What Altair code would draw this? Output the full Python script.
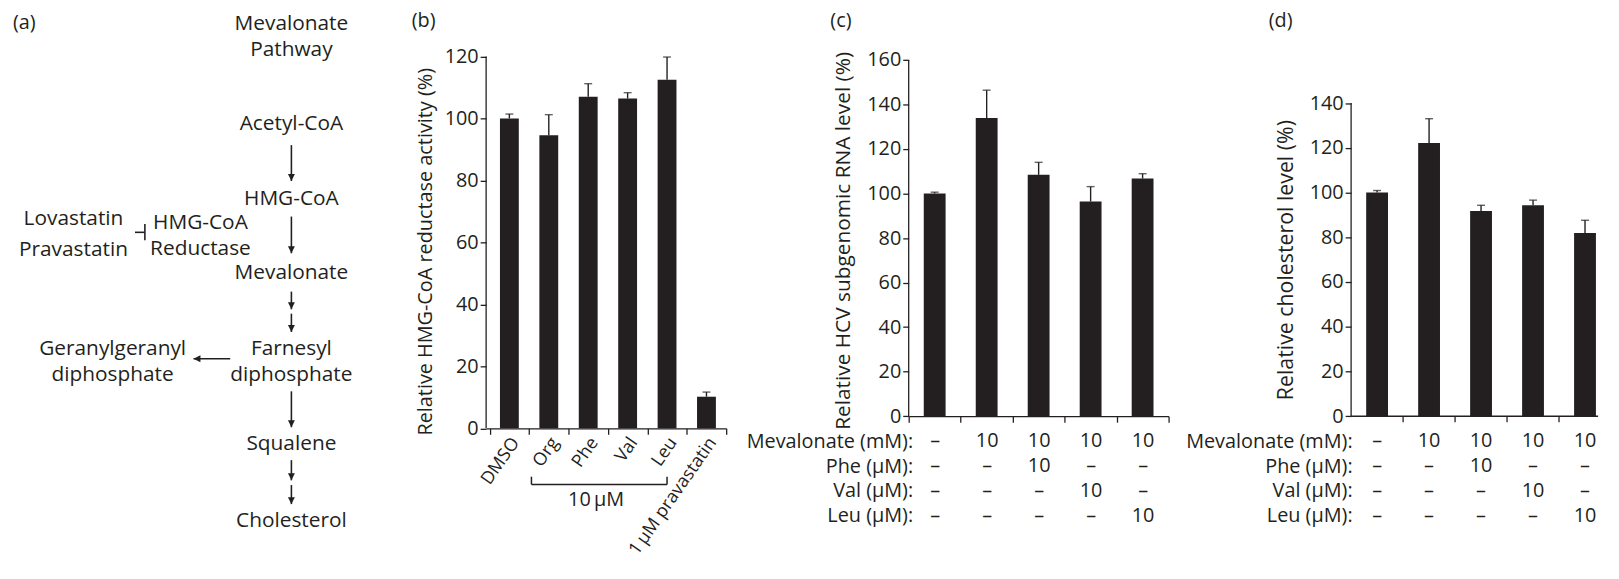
import altair as alt
import pandas as pd

FONT = "Open Sans"
INK = "#231f20"
FS = 20

# ---------------- (a) pathway diagram (layout in diagram units) ----------------
diagram_labels = ["Mevalonate", "Pathway", "Acetyl-CoA", "HMG-CoA", "Mevalonate",
                  "Farnesyl", "diphosphate", "Squalene", "Cholesterol",
                  "Lovastatin", "Pravastatin", "HMG-CoA", "Reductase",
                  "Geranylgeranyl", "diphosphate"]
diagram_x = [285.7] * 9 + [66, 66, 194, 194, 105.5, 105.5]
diagram_y = [20.4, 46.3, 121.2, 196.2, 270.8, 347.6, 373.5, 443.3, 521.2,
             216.1, 247.9, 220.2, 246.8, 347.6, 373.5]
down_arrow_y1 = [136, 208, 283.7, 305.9, 384.2, 453.6, 478.7]
down_arrow_y2 = [172.2, 245, 301.5, 324.4, 420.4, 473.9, 497.9]
down_arrow_x = [285.7] * 7
left_arrow = {"x1": [224], "x2": [187], "y1": [351.3], "y2": [351.3]}
inhibitor = {"x1": [138, 128], "x2": [138, 138], "y1": [215.4, 223.9], "y2": [232, 223.9]}

# ---------------- (b) HMG-CoA reductase activity ----------------
b_categories = ["DMSO", "Org", "Phe", "Val", "Leu", "1\u2009\u03bcM pravastatin"]
b_means = [100.0, 94.6, 107.0, 106.4, 112.5, 10.2]
b_upper = [101.4, 101.2, 111.2, 108.3, 119.8, 11.7]
b_ticks = [0, 20, 40, 60, 80, 100, 120]

# ---------------- (c)/(d) conditions ----------------
cd_mevalonate = ["\u2013", "10", "10", "10", "10"]
cd_phe = ["\u2013", "\u2013", "10", "\u2013", "\u2013"]
cd_val = ["\u2013", "\u2013", "\u2013", "10", "\u2013"]
cd_leu = ["\u2013", "\u2013", "\u2013", "\u2013", "10"]
row_titles = ["Mevalonate (mM):", "Phe (\u03bcM):", "Val (\u03bcM):", "Leu (\u03bcM):"]

c_means = [100.0, 133.9, 108.4, 96.4, 106.7]
c_upper = [100.6, 146.4, 114.0, 103.1, 108.9]
c_ticks = [0, 20, 40, 60, 80, 100, 120, 140, 160]

d_means = [100.0, 122.2, 91.7, 94.3, 81.9]
d_upper = [100.9, 133.0, 94.3, 96.6, 87.6]
d_ticks = [0, 20, 40, 60, 80, 100, 120, 140]

# ======================= panel (a) =======================
AW, AH = 298, 530
ax = alt.Scale(domain=[0, AW])
ay = alt.Scale(domain=[0, AH], reverse=True)

txt_df = pd.DataFrame({"label": diagram_labels, "x": diagram_x, "y": diagram_y})
a_text = alt.Chart(txt_df).mark_text(fontSize=21, color=INK, baseline="alphabetic", align="center").encode(
    x=alt.X("x:Q", scale=ax, axis=None), y=alt.Y("y:Q", scale=ay, axis=None), text="label:N")
a_tag = alt.Chart(pd.DataFrame({"label": ["(a)"], "x": [5], "y": [18.6]})).mark_text(
    fontSize=FS, color=INK, baseline="alphabetic", align="left").encode(
    x=alt.X("x:Q", scale=ax, axis=None), y=alt.Y("y:Q", scale=ay, axis=None), text="label:N")

down_df = pd.DataFrame({"x1": down_arrow_x, "y1": down_arrow_y1, "x2": down_arrow_x, "y2": down_arrow_y2})
left_df = pd.DataFrame(left_arrow)
inh_df = pd.DataFrame(inhibitor)


def shafts(df):
    return alt.Chart(df).mark_rule(color=INK, strokeWidth=1.6).encode(
        x=alt.X("x1:Q", scale=ax, axis=None), x2="x2:Q",
        y=alt.Y("y1:Q", scale=ay, axis=None), y2="y2:Q")


down_heads = alt.Chart(down_df).mark_point(
    shape="M0,0L-0.5,-1L0.5,-1Z", size=196, filled=True, opacity=1, color=INK).encode(
    x=alt.X("x2:Q", scale=ax, axis=None), y=alt.Y("y2:Q", scale=ay, axis=None))
left_heads = alt.Chart(left_df).mark_point(
    shape="M0,0L1,-0.5L1,0.5Z", size=196, filled=True, opacity=1, color=INK).encode(
    x=alt.X("x2:Q", scale=ax, axis=None), y=alt.Y("y2:Q", scale=ay, axis=None))

panel_a = alt.layer(a_text, a_tag, shafts(down_df), shafts(left_df), shafts(inh_df),
                    down_heads, left_heads).properties(width=AW, height=AH)


# ======================= bar panels =======================
def panel_label(text, dx):
    return alt.Chart(pd.DataFrame({"t": [text]})).mark_text(
        align="left", baseline="alphabetic", fontSize=FS, color=INK).encode(
        text="t:N", x=alt.value(dx), y=alt.value(17))


def bar_layers(df, xscale, yscale, xaxis, yaxis, bar_w, top_tick):
    bars = alt.Chart(df).mark_bar(color=INK, width=bar_w).encode(
        x=alt.X("cond:N", scale=xscale, axis=xaxis, sort=None),
        y=alt.Y("mean:Q", scale=yscale, axis=yaxis))
    err = alt.Chart(df).mark_rule(color=INK, strokeWidth=1.4).encode(
        x=alt.X("cond:N", scale=xscale),
        y=alt.Y("mean:Q", scale=yscale), y2="upper:Q")
    cap = alt.Chart(df).mark_tick(color=INK, thickness=1.4, size=8).encode(
        x=alt.X("cond:N", scale=xscale),
        y=alt.Y("upper:Q", scale=yscale))
    yline = alt.Chart(pd.DataFrame({"a": [0], "b": [top_tick]})).mark_rule(
        color=INK, strokeWidth=1.3).encode(
        x=alt.value(0), y=alt.Y("a:Q", scale=yscale), y2="b:Q")
    return [bars, err, cap, yline]


def y_axis(title, ticks, tx, ty, tfs):
    return alt.Axis(title=title, values=ticks, domain=False, tickSize=6, labelPadding=2,
                    titleX=tx, titleY=ty, titleFontSize=tfs,
                    titleAlign="center", titleBaseline="middle")


# ---- (b)
b_df = pd.DataFrame({"cond": b_categories, "mean": b_means, "upper": b_upper})
b_xs = alt.Scale(domain=b_categories, paddingInner=0, paddingOuter=0.045, align=1)
b_ys = alt.Scale(domain=[0, 134.9], nice=False)
b_xaxis = alt.Axis(title=None, labelAngle=-55, labelAlign="right", labelBaseline="middle",
                   labelFontSize=18, tickBand="extent", tickSize=6, labelPadding=5, labelOffset=6,
                   labelOverlap=False)
b_yaxis = y_axis("Relative HMG-CoA reductase activity (%)", b_ticks, -61, 243, 20)
b_layers = bar_layers(b_df, b_xs, b_ys, b_xaxis, b_yaxis, 19, 120)

br_df = pd.DataFrame({"cond": ["Org"], "cond_end": ["Leu"], "level": [-18.1], "tip": [-15.6]})
br_h = alt.Chart(br_df).mark_rule(color=INK, strokeWidth=1.5).encode(
    x=alt.X("cond:N", scale=b_xs, bandPosition=0.06),
    x2=alt.X2("cond_end:N", bandPosition=0.5),
    y=alt.Y("level:Q", scale=b_ys))
br_l = alt.Chart(br_df).mark_rule(color=INK, strokeWidth=1.5).encode(
    x=alt.X("cond:N", scale=b_xs, bandPosition=0.06),
    y=alt.Y("level:Q", scale=b_ys), y2="tip:Q")
br_r = alt.Chart(br_df).mark_rule(color=INK, strokeWidth=1.5).encode(
    x=alt.X("cond_end:N", scale=b_xs, bandPosition=0.5),
    y=alt.Y("level:Q", scale=b_ys), y2="tip:Q")
br_t = alt.Chart(pd.DataFrame({"cond": ["Phe"], "label": ["10\u2009\u03bcM"], "level": [-25.0]})).mark_text(
    align="center", baseline="alphabetic", fontSize=FS, color=INK).encode(
    x=alt.X("cond:N", scale=b_xs, bandPosition=0.7),
    y=alt.Y("level:Q", scale=b_ys), text="label:N")

panel_b = alt.layer(*b_layers, br_h, br_l, br_r, br_t, panel_label("(b)", -75)).properties(
    width=242, height=421.5)

# ---- (c) and (d)
cd_keys = ["|".join(r) for r in zip(cd_mevalonate, cd_phe, cd_val, cd_leu)]


def cd_xaxis(title_x, native_ticks=True):
    extra = dict(tickSize=6, tickBand="extent", labelPadding=25) if native_ticks else dict(
        ticks=False, domain=False, tickSize=0, labelPadding=31)
    return alt.Axis(title=row_titles, labelExpr="split(datum.label, '|')", labelLineHeight=25,
                    labelBaseline="alphabetic", labelAlign="center",
                    labelAngle=0, labelOverlap=False,
                    titleAlign="right", titleBaseline="alphabetic", titleAngle=0,
                    titleX=title_x, titleY=31.4, titleLineHeight=25, **extra)


c_df = pd.DataFrame({"cond": cd_keys, "mean": c_means, "upper": c_upper})
c_xs = alt.Scale(domain=cd_keys, paddingInner=0, paddingOuter=0)
c_ys = alt.Scale(domain=[0, 182.3], nice=False)
c_yaxis = y_axis("Relative HCV subgenomic RNA level (%)", c_ticks, -66, 232, 21)
panel_c = alt.layer(*bar_layers(c_df, c_xs, c_ys, cd_xaxis(4), c_yaxis, 22, 160),
                    panel_label("(c)", -79)).properties(width=262, height=409.3)

# (d): the bands continue past the right edge of the page, as in the cropped original
d_df = pd.DataFrame({"cond": cd_keys, "mean": d_means, "upper": d_upper})
d_xs = alt.Scale(domain=cd_keys, paddingInner=0, paddingOuter=0, range=[0, 262])
d_ys = alt.Scale(domain=[0, 181.5], nice=False)
d_yaxis = y_axis("Relative cholesterol level (%)", d_ticks, -65, 251.4, 21.5)
d_tick_df = pd.DataFrame({"cond": cd_keys[:4], "a": [0] * 4, "b": [-6 / 2.255] * 4})
d_ticks_layer = alt.Chart(d_tick_df).mark_rule(color=INK, strokeWidth=1.3).encode(
    x=alt.X("cond:N", scale=d_xs, bandPosition=1),
    y=alt.Y("a:Q", scale=d_ys), y2="b:Q")
d_xline = alt.Chart(pd.DataFrame({"a": [0]})).mark_rule(color=INK, strokeWidth=1.3).encode(
    x=alt.value(0), x2=alt.value("width"), y=alt.Y("a:Q", scale=d_ys))
panel_d = alt.layer(*bar_layers(d_df, d_xs, d_ys, cd_xaxis(1, native_ticks=False), d_yaxis, 22, 140),
                    d_ticks_layer, d_xline,
                    panel_label("(d)", -83)).properties(width=249, height=409.3)

chart = alt.hconcat(panel_a, panel_b, panel_c, panel_d, spacing=184, bounds="flush").properties(
    padding=0
).configure(font=FONT).configure_view(strokeWidth=0).configure_axis(
    labelFont=FONT, titleFont=FONT, labelFontSize=FS, titleFontSize=FS, titleFontWeight="normal",
    labelColor=INK, titleColor=INK, domainColor=INK, tickColor=INK, domainWidth=1.3, tickWidth=1.3,
    grid=False)

chart.save("out.html", embed_options={"renderer": "svg", "actions": False})
